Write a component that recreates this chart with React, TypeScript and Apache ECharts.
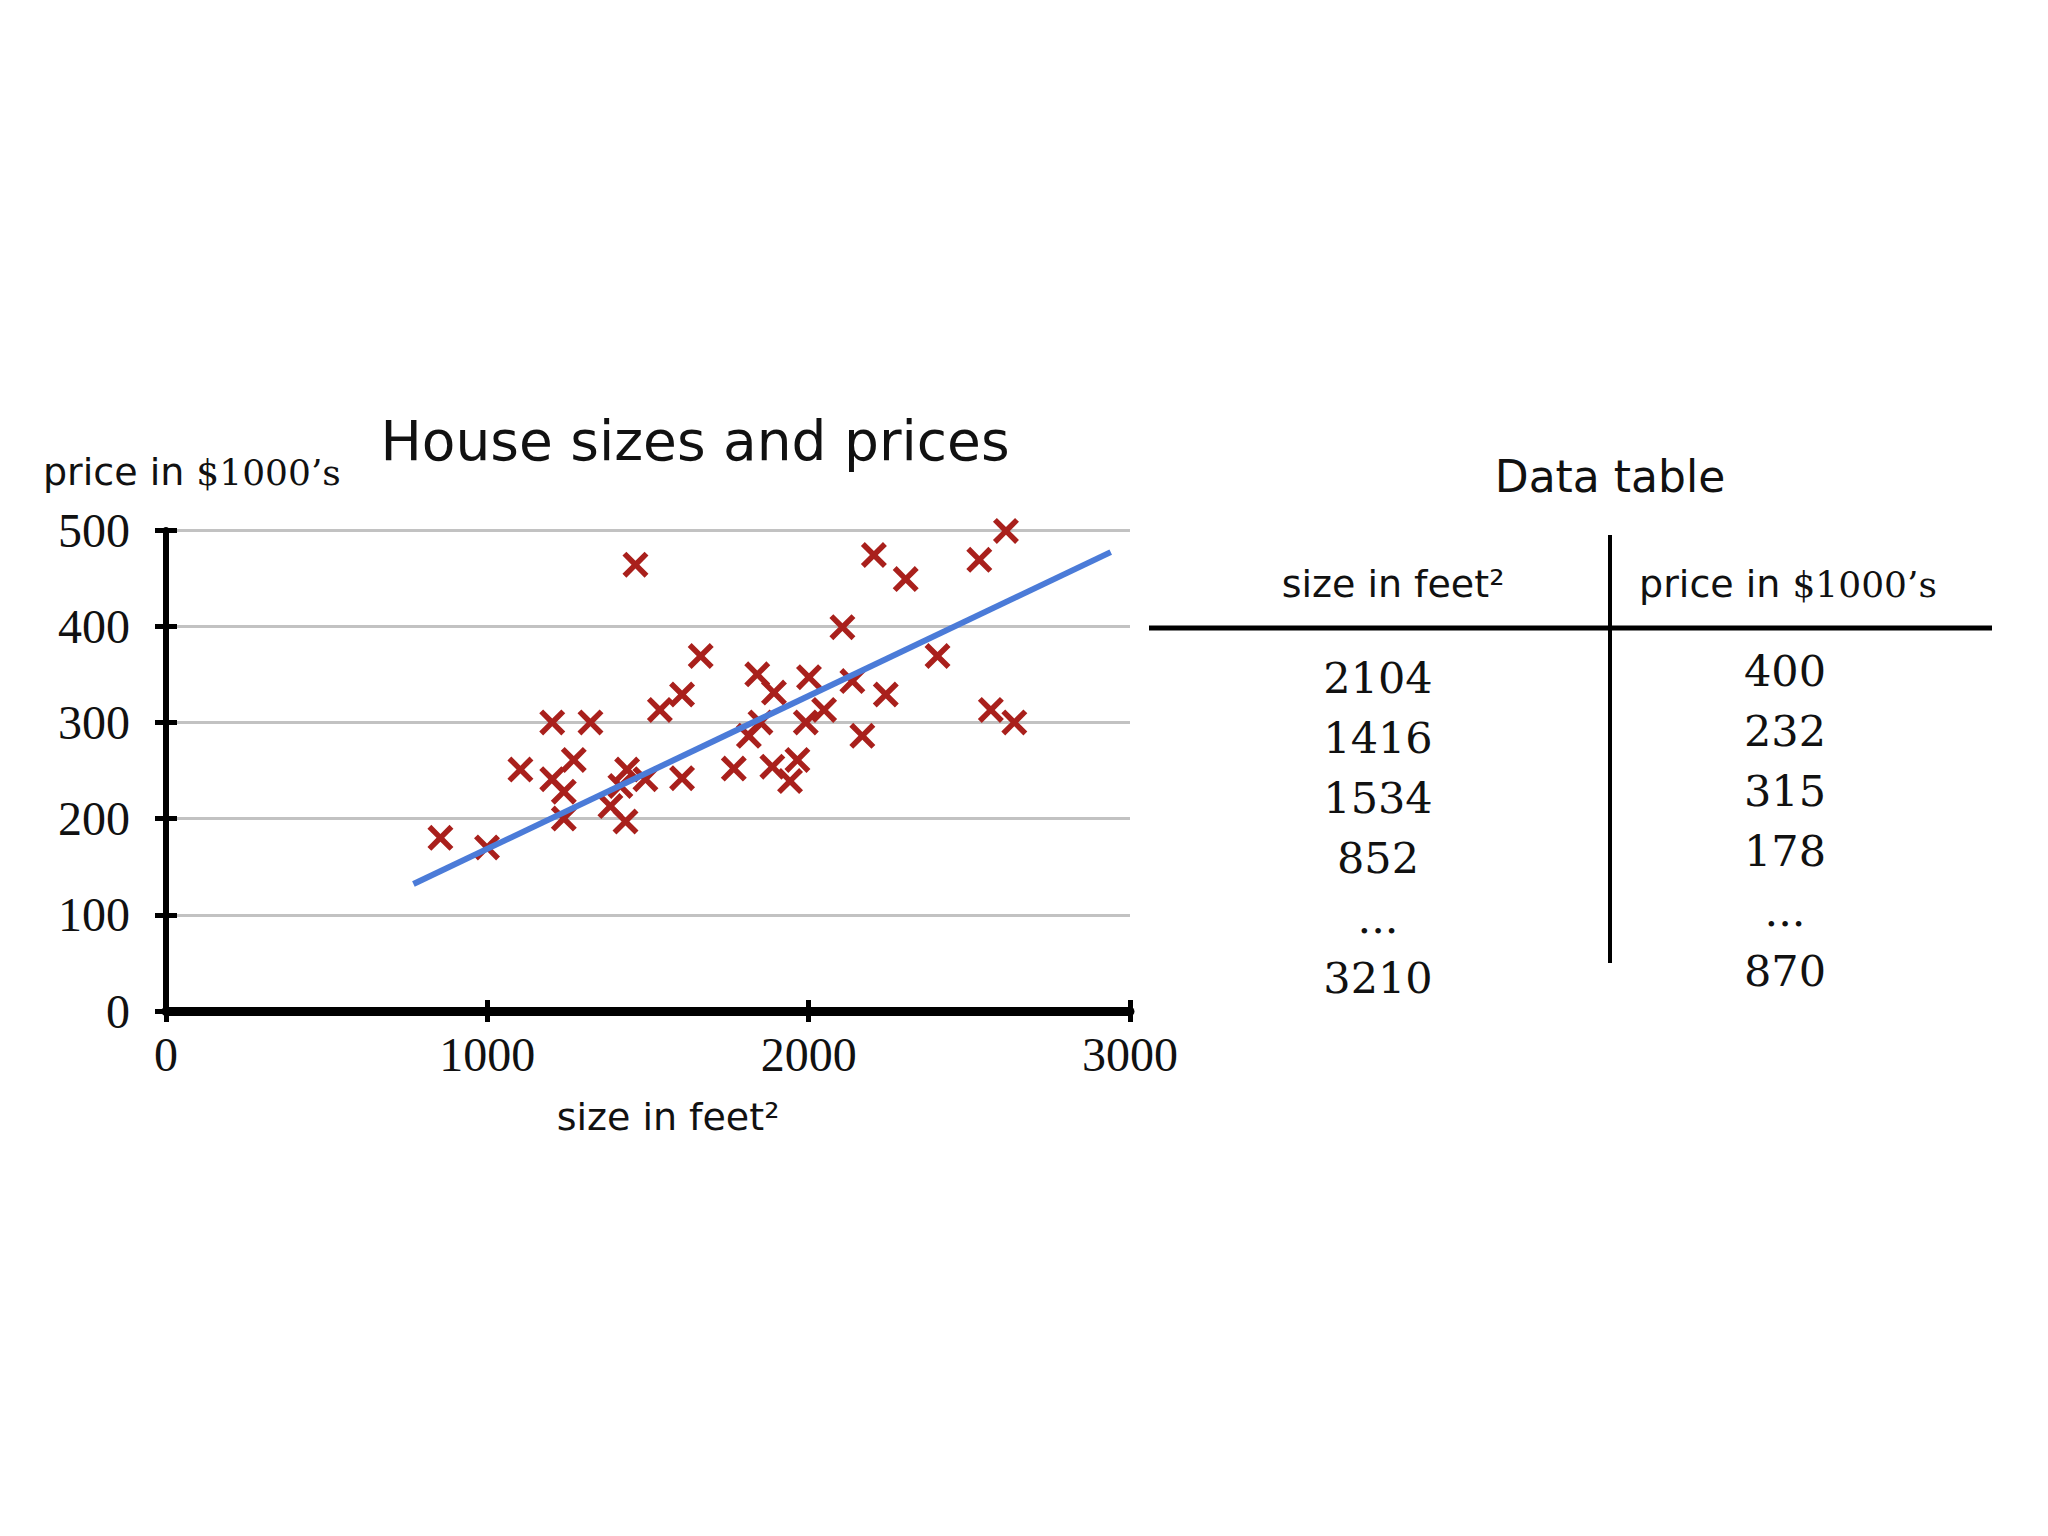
import React, { useEffect, useRef } from 'react';
import * as echarts from 'echarts';

// Scatter data: house size (feet^2) and price ($1000's)
const sizeX = [
  1461, 1664, 1606, 1537, 1202, 1321, 1103, 1269, 1202, 1238, 1238, 1435, 1414, 1492, 1606, 1383, 1430, 854, 999,
  2614, 2203, 2302, 2531, 2105, 2401, 1840, 1892, 2001, 2136, 2240, 2048, 1850, 1814, 1991, 2167, 2567, 2640, 1767,
  1887, 1965, 1942,
];
const priceY = [
  464, 369, 329, 313, 300, 300, 251, 261, 241, 228, 200, 251, 234, 241, 242, 213, 197, 180, 170,
  499, 474, 449, 469, 399, 369, 350, 331, 347, 343, 329, 313, 300, 286, 300, 286, 313, 300, 252,
  254, 261, 239,
];

// Fitted line end points
const fitX = [770, 2940];
const fitY = [132, 477];

// Data table
const tableSizes = ['2104', '1416', '1534', '852', '...', '3210'];
const tablePrices = ['400', '232', '315', '178', '...', '870'];

const X_PATH = 'path://M0,15L15,0L50,35L85,0L100,15L65,50L100,85L85,100L50,65L15,100L0,85L35,50Z';

const SANS = 'DejaVu Sans';
const SERIF_NUM = 'DejaVu Serif';
const AXIS_NUM = 'Liberation Serif';

function priceRich(x: number, y: number, align: string) {
  return {
    type: 'text',
    x,
    y,
    style: {
      text: '{a|price in }{b|$1000’s}',
      textAlign: align,
      align,
      textVerticalAlign: 'middle',
      verticalAlign: 'middle',
      fill: '#111',
      rich: {
        a: { fontFamily: SANS, fontSize: 38, color: '#111' },
        b: { fontFamily: SERIF_NUM, fontSize: 36, color: '#111' },
      },
    },
  };
}

function txt(text: string, x: number, y: number, size: number, family: string, align = 'center') {
  return {
    type: 'text',
    x,
    y,
    style: {
      text,
      fontSize: size,
      fontFamily: family,
      fill: '#111',
      textAlign: align,
      align,
      textVerticalAlign: 'middle',
      verticalAlign: 'middle',
    },
  };
}

export default function App() {
  const ref = useRef<HTMLDivElement>(null);
  useEffect(() => {
    const chart = echarts.init(ref.current!, null, { renderer: 'svg', width: 2048, height: 1536 });

    const graphics: any[] = [
      txt('House sizes and prices', 695, 441, 55, SANS),
      priceRich(43, 472, 'left'),
      txt('size in feet²', 668, 1117, 38, SANS),
      txt('Data table', 1610, 476, 44, SANS),
      txt('size in feet²', 1393, 584, 38, SANS),
      priceRich(1788, 584, 'center'),
      {
        type: 'line',
        shape: { x1: 1149, y1: 628, x2: 1992, y2: 628 },
        style: { stroke: '#000', lineWidth: 5 },
      },
      {
        type: 'line',
        shape: { x1: 1610, y1: 535, x2: 1610, y2: 963 },
        style: { stroke: '#000', lineWidth: 4 },
      },
    ];
    tableSizes.forEach((s, i) => graphics.push(txt(s, 1378, 678 + i * 60, 43, SERIF_NUM)));
    tablePrices.forEach((s, i) => graphics.push(txt(s, 1785, 671 + i * 60, 43, SERIF_NUM)));

    const plain = (v: number) => String(v);

    const option: any = {
      animation: false,
      backgroundColor: '#ffffff',
      grid: { left: 166, top: 530, width: 964, height: 481, containLabel: false, outerBoundsMode: 'none' },
      xAxis: [
        {
          type: 'value', min: 0, max: 3000, interval: 1000, position: 'bottom',
          axisLine: { show: true, onZero: false, lineStyle: { color: '#000', width: 9 } },
          axisTick: { show: true, inside: false, length: 11, lineStyle: { color: '#000', width: 5 } },
          axisLabel: { margin: 19, fontFamily: AXIS_NUM, fontSize: 48, color: '#111', formatter: plain },
          splitLine: { show: false },
        },
        {
          type: 'value', min: 0, max: 3000, interval: 1000, position: 'bottom', gridIndex: 0,
          axisLine: { show: false, onZero: false },
          axisTick: { show: true, inside: true, length: 11, lineStyle: { color: '#000', width: 5 } },
          axisLabel: { show: false },
          splitLine: { show: false },
        },
      ],
      yAxis: [
        {
          type: 'value', min: 0, max: 500, interval: 100, position: 'left',
          axisLine: { show: true, onZero: false, lineStyle: { color: '#000', width: 6 } },
          axisTick: { show: true, inside: false, length: 11, lineStyle: { color: '#000', width: 5 } },
          axisLabel: { margin: 36, fontFamily: AXIS_NUM, fontSize: 48, color: '#111', formatter: plain },
          splitLine: { show: true, lineStyle: { color: '#c2c2c2', width: 3 } },
        },
        {
          type: 'value', min: 0, max: 500, interval: 100, position: 'left', gridIndex: 0,
          axisLine: { show: false, onZero: false },
          axisTick: { show: true, inside: true, length: 11, lineStyle: { color: '#000', width: 5 } },
          axisLabel: { show: false },
          splitLine: { show: false },
        },
      ],
      series: [
        {
          type: 'scatter',
          xAxisIndex: 0,
          yAxisIndex: 0,
          data: sizeX.map((x, i) => [x, priceY[i]]),
          symbol: X_PATH,
          symbolSize: 26,
          itemStyle: { color: '#a9201c', opacity: 1 },
          z: 3,
        },
        {
          type: 'line',
          xAxisIndex: 0,
          yAxisIndex: 0,
          data: fitX.map((x, i) => [x, fitY[i]]),
          symbol: 'none',
          lineStyle: { color: '#4b7bd8', width: 6 },
          z: 4,
        },
      ],
      graphic: graphics,
    };
    chart.setOption(option);
    return () => chart.dispose();
  }, []);
  return (
    <div
      ref={ref}
      style={{ position: 'fixed', left: 0, top: 0, width: 2048, height: 1536, background: '#ffffff' }}
    />
  );
}
